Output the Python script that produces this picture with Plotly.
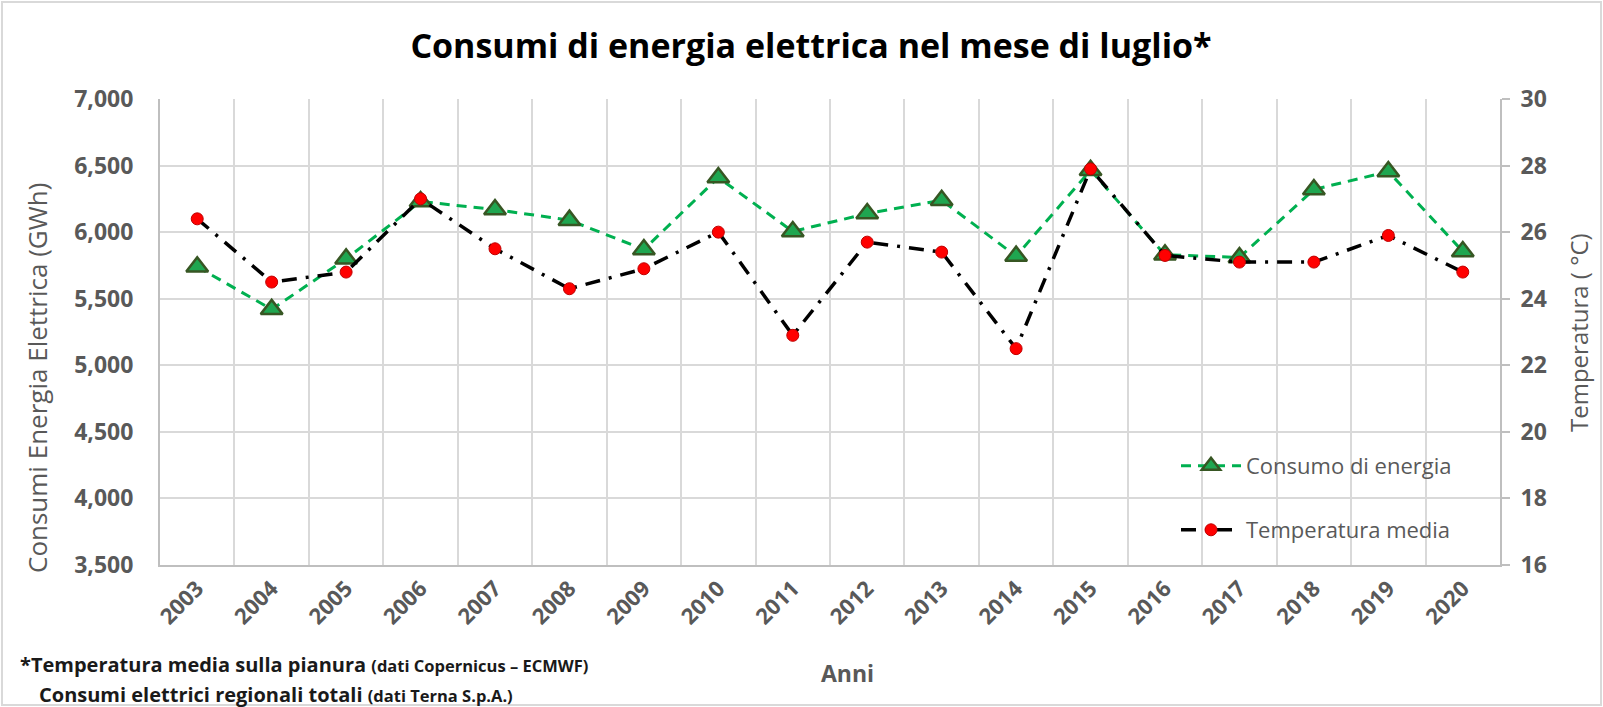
import plotly.graph_objects as go

years = [str(y) for y in range(2003, 2021)]
consumo = [5740, 5420, 5800, 6230, 6170, 6090, 5870, 6410, 6005, 6140,
           6240, 5820, 6465, 5830, 5810, 6320, 6455, 5855]
temperatura = [26.4, 24.5, 24.8, 27.0, 25.5, 24.3, 24.9, 26.0, 22.9, 25.7,
               25.4, 22.5, 27.9, 25.3, 25.1, 25.1, 25.9, 24.8]

FONT = "Open Sans"
GREY = "#595959"
GRID = "#D9D9D9"
AXL = "#BFBFBF"

W, H = 1603, 707
L, R, T, B = 160, 1500, 99, 565


def px(x):
    return (x - L) / (R - L)


def py(y):
    return (B - y) / (B - T)


fig = go.Figure()
fig.add_trace(go.Scatter(
    x=years, y=consumo, name="Consumo di energia", mode="lines+markers",
    line=dict(color="#00B050", width=3, dash="10px,7px"),
    marker=dict(symbol="triangle-up", size=19, color="#1FA650",
                line=dict(color="#375623", width=2.5)),
    legend="legend", yaxis="y"))
fig.add_trace(go.Scatter(
    x=years, y=temperatura, name="Temperatura media", mode="lines+markers",
    line=dict(color="#000000", width=3.5, dash="15px,9px,3px,9px"),
    marker=dict(symbol="circle", size=12, color="#FF0000",
                line=dict(color="#C00000", width=1)),
    legend="legend2", yaxis="y2"))

tickfont = dict(family=FONT, size=23, color=GREY)

fig.update_layout(
    width=W, height=H,
    paper_bgcolor="white", plot_bgcolor="white",
    margin=dict(l=L, r=W - R, t=T, b=H - B),
    title=dict(text="<b>Consumi di energia elettrica nel mese di luglio*</b>",
               x=811 / W, xanchor="center", y=1 - 46 / H, yanchor="middle",
               font=dict(family=FONT, size=34, color="#000000")),
    xaxis=dict(type="category", range=[-0.5, 17.5], tickson="boundaries",
               showgrid=True, gridcolor=GRID, gridwidth=1.5,
               showline=True, linecolor=AXL, linewidth=2,
               ticks="", tickangle=-45,
               tickfont=dict(family=FONT, size=22, color=GREY),
               tickprefix="<b>", ticksuffix="</b>"),
    yaxis=dict(range=[3500, 7000], dtick=500, tickformat=",",
               showgrid=True, gridcolor=GRID, gridwidth=1.5,
               showline=True, linecolor=AXL, linewidth=2,
               zeroline=False, tickfont=tickfont,
               tickprefix="<b>", ticksuffix="</b>", ticklabelstandoff=20),
    yaxis2=dict(range=[16, 30], dtick=2, overlaying="y", side="right",
                showgrid=False, showline=True, linecolor=AXL, linewidth=2,
                ticks="outside", ticklen=8, tickcolor=AXL, tickwidth=1.5,
                zeroline=False, tickfont=tickfont,
                tickprefix="<b>", ticksuffix="</b>", ticklabelstandoff=6),
    legend=dict(x=px(1176), y=py(466), xanchor="left", yanchor="middle",
                bgcolor="rgba(0,0,0,0)", itemwidth=60,
                font=dict(family=FONT, size=22, color=GREY)),
    legend2=dict(x=px(1176), y=py(530), xanchor="left", yanchor="middle",
                 bgcolor="rgba(0,0,0,0)", itemwidth=60,
                 font=dict(family=FONT, size=22, color=GREY)),
    showlegend=True,
)

annots = [
    dict(text="Consumi Energia Elettrica (GWh)", x=px(37), y=py(378), textangle=-90,
         font=dict(family=FONT, size=26, color=GREY), xanchor="center", yanchor="middle"),
    dict(text="Temperatura ( °C)", x=px(1578), y=py(333), textangle=-90,
         font=dict(family=FONT, size=24, color=GREY), xanchor="center", yanchor="middle"),
    dict(text="<b>Anni</b>", x=px(847), y=py(673),
         font=dict(family=FONT, size=23, color=GREY), xanchor="center", yanchor="middle"),
    dict(text="<b>*Temperatura media sulla pianura</b> <span style='font-size:16.5px'><b>(dati Copernicus – ECMWF)</b></span>",
         x=px(18), y=py(664), font=dict(family=FONT, size=20, color="#1a1a1a"),
         xanchor="left", yanchor="middle"),
    dict(text="<b>Consumi elettrici regionali totali</b> <span style='font-size:16.5px'><b>(dati Terna S.p.A.)</b></span>",
         x=px(37), y=py(694), font=dict(family=FONT, size=20, color="#1a1a1a"),
         xanchor="left", yanchor="middle"),
]
for a in annots:
    fig.add_annotation(xref="paper", yref="paper", showarrow=False, **a)

fig.add_shape(type="rect", xref="paper", yref="paper",
              x0=px(2), x1=px(1601), y0=py(705), y1=py(2),
              line=dict(color="#D9D9D9", width=2), layer="below")

fig.write_html("out.html", config={"displayModeBar": False},
               post_script="document.body.style.margin='0px';document.body.style.overflow='hidden';")
